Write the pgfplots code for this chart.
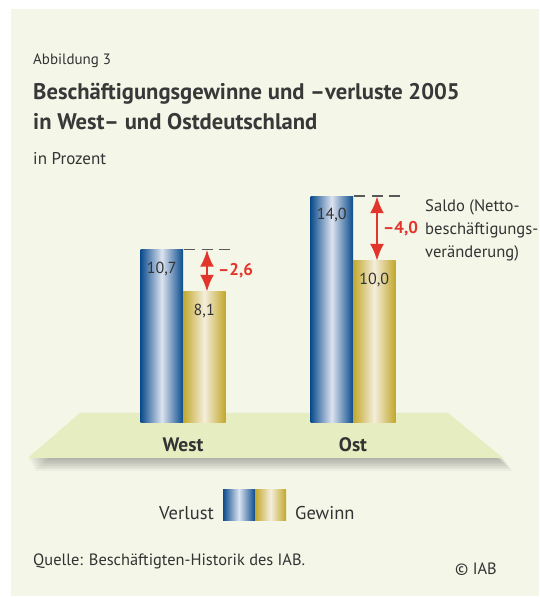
\documentclass[border=0pt]{standalone}
\usepackage{fontspec}
\setmainfont{PT Sans}
\usepackage{pgfplots}
\pgfplotsset{compat=1.18}
\usetikzlibrary{arrows.meta}

\definecolor{bgc}{HTML}{F4F6E8}
\definecolor{floorc}{HTML}{E5EDC1}
\definecolor{blueD}{HTML}{0B4C8C}
\definecolor{blueL}{HTML}{DDE3F0}
\definecolor{goldD}{HTML}{C2A72A}
\definecolor{goldL}{HTML}{F4EEDC}
\definecolor{saldo}{HTML}{E2352B}
\definecolor{txt}{HTML}{333333}

\tikzset{
  blueshade/.style={left color=blueD, right color=blueD, middle color=blueL},
  goldshade/.style={left color=goldD, right color=goldD, middle color=goldL},
  saldoarrow/.style={saldo, line width=2.8pt,
    {Latex[length=17pt,width=14pt]}-{Latex[length=17pt,width=14pt]}},
}

\begin{document}
\begin{tikzpicture}[x=1pt,y=1pt]
% page and panel
\fill[white] (0,0) rectangle (539,597);
\fill[bgc] (11,1) rectangle (539,588);

% floor with soft shadow
\foreach \i in {1,...,8}
  \fill[black,opacity=0.035] ({80+\i*0.8},{184-\i*1.6}) -- ({448+\i*1.2},{184-\i*1.6})
    -- ({503+\i*1.2},{139-\i*1.6}) -- ({28+\i*0.8},{139-\i*1.6}) -- cycle;
\fill[floorc] (80,184) -- (448,184) -- (503,139) -- (28,139) -- cycle;

% titles
\begin{scope}[every node/.style={inner sep=0pt, text=txt}]
\node[anchor=base west, font=\fontsize{15}{18}\selectfont] at (33,532) {Abbildung 3};
\node[anchor=base west, font=\fontsize{22.6}{26}\selectfont\bfseries, text=black!78] at (33,497) {Beschäftigungsgewinne und –verluste 2005};
\node[anchor=base west, font=\fontsize{22.6}{26}\selectfont\bfseries, text=black!78] at (33,467) {in West– und Ostdeutschland};
\node[anchor=base west, font=\fontsize{17}{19}\selectfont] at (33,432) {in Prozent};

% saldo note
\node[anchor=base west, font=\fontsize{16.6}{18}\selectfont] at (425,385) {Saldo (Netto-};
\node[anchor=base west, font=\fontsize{16.6}{18}\selectfont] at (425,362) {beschäftigungs-};
\node[anchor=base west, font=\fontsize{16.6}{18}\selectfont] at (425,339) {veränderung)};

% legend
\node[anchor=base east, font=\fontsize{18.5}{20}\selectfont] at (214,77) {Verlust};
\fill[blueshade] (223,76) rectangle (255,107);
\fill[goldshade] (255,76) rectangle (286,107);
\node[anchor=base west, font=\fontsize{18.5}{20}\selectfont] at (295,77) {Gewinn};

% source
\node[anchor=base west, font=\fontsize{16.4}{18}\selectfont] at (33,31) {Quelle: Beschäftigten-Historik des IAB.};
\node[anchor=base west, font=\fontsize{16.4}{18}\selectfont] at (455,22) {© IAB};
\end{scope}

\begin{axis}[
  at={(13pt,174pt)}, anchor=south west,
  scale only axis,
  width=510pt, height=259.2pt,
  xmin=-1, xmax=2, ymin=0, ymax=16,
  enlargelimits=false,
  clip=false,
  ybar,
  bar width=42.5pt,
  axis line style={draw=none},
  major tick style={draw=none},
  ytick=\empty,
  xtick={0,1},
  xticklabels={West,Ost},
  xticklabel style={anchor=base, yshift=-24pt, inner sep=0pt,
    font=\fontsize{19.5}{21}\selectfont\bfseries, text=txt},
  nodes near coords,
  every node near coord/.append style={anchor=north, yshift=-8.5pt,
    font=\fontsize{16}{18}\selectfont, text=txt},
  /pgf/number format/.cd, use comma, fixed, fixed zerofill, precision=1,
  assume math mode=true,
]
% Verlust (one plot per bar so each bar gets its own shading)
\addplot[draw=none, bar shift=-21.25pt, blueshade] coordinates {(0,10.7)};
\addplot[draw=none, bar shift=-21.25pt, blueshade] coordinates {(1,14.0)};
% Gewinn
\addplot[draw=none, bar shift=21.25pt, goldshade] coordinates {(0,8.1)};
\addplot[draw=none, bar shift=21.25pt, goldshade] coordinates {(1,10.0)};

% dashed reference at Verlust level
\draw[gray!70!black, line width=1.4pt, dash pattern=on 11pt off 6.5pt]
  ([xshift=1pt]axis cs:0,10.7) -- ([xshift=47pt]axis cs:0,10.7);
\draw[gray!70!black, line width=1.4pt, dash pattern=on 11pt off 6.5pt]
  ([xshift=1pt]axis cs:1,14.0) -- ([xshift=47pt]axis cs:1,14.0);

% saldo arrows
\draw[saldoarrow] ([xshift=24pt]axis cs:0,10.7) -- ([xshift=24pt]axis cs:0,8.1);
\draw[saldoarrow] ([xshift=24pt]axis cs:1,14.0) -- ([xshift=24pt]axis cs:1,10.0);
\node[anchor=west, inner sep=0pt, text=saldo, font=\fontsize{17}{19}\selectfont\bfseries]
  at ([xshift=35pt]axis cs:0,9.4) {–2,6};
\node[anchor=west, inner sep=0pt, text=saldo, font=\fontsize{17}{19}\selectfont\bfseries]
  at ([xshift=30pt]axis cs:1,12.0) {–4,0};
\end{axis}
\end{tikzpicture}
\end{document}
